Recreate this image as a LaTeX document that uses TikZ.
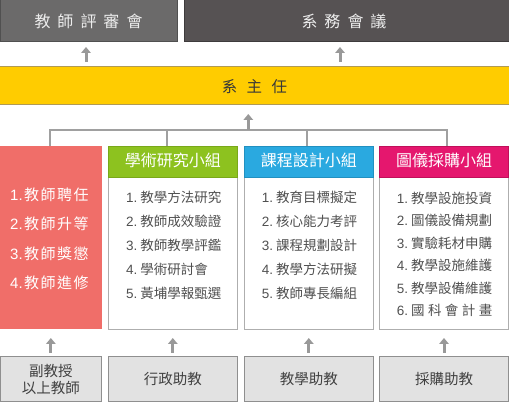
\documentclass[tikz,border=0pt]{standalone}
\usepackage{fontspec}
\setmainfont{Noto Sans CJK TC}
\newfontfamily\lat{Liberation Sans}
\usetikzlibrary{arrows.meta}
\definecolor{topL}{HTML}{6B6A6A}
\definecolor{topLd}{HTML}{505050}
\definecolor{topR}{HTML}{565253}
\definecolor{topRd}{HTML}{3E3B3C}
\definecolor{yel}{HTML}{FFCC00}
\definecolor{yeld}{HTML}{B09A55}
\definecolor{redc}{HTML}{F06E69}
\definecolor{grn}{HTML}{8DC21F}
\definecolor{grnd}{HTML}{79A81A}
\definecolor{blu}{HTML}{2AA9E0}
\definecolor{blud}{HTML}{2290C0}
\definecolor{pnk}{HTML}{E5176E}
\definecolor{pnkd}{HTML}{C0105A}
\definecolor{colb}{HTML}{AEAEAE}
\definecolor{linec}{HTML}{A0A0A0}
\definecolor{arrc}{HTML}{999999}
\definecolor{bfill}{HTML}{E2E2E2}
\definecolor{bdraw}{HTML}{8F8F8F}
\definecolor{bodytxt}{HTML}{505050}
\newcommand\gapx[1]{\kern#1pt\relax}
\begin{document}
\begin{tikzpicture}[x=1pt,y=-1pt,
  box/.style={rectangle, inner sep=0pt, outer sep=0pt, anchor=north west},
  ctext/.style={inner sep=0pt, text height=1.1em, text depth=0em},
  ttl/.style={ctext, text=white!93!black, font=\fontsize{16}{16}\selectfont},
  hdr/.style={box, ctext, text=white, font=\fontsize{16}{16}\selectfont, minimum width=129pt, minimum height=31pt, line width=0.8pt},
  colbody/.style={box, draw=colb, fill=white, line width=0.9pt, minimum width=129pt, minimum height=183.3pt},
  item/.style={ctext, anchor=west, text=bodytxt, font=\fontsize{13.5}{13.5}\selectfont},
  ritem/.style={ctext, anchor=west, text=white, font=\fontsize{15}{15}\selectfont},
  btm/.style={box, draw=bdraw, fill=bfill, line width=0.9pt, minimum height=45pt, text=black!75, font=\fontsize{14.5}{16.7}\selectfont, align=center},
  conn/.style={draw=linec, line width=1.8pt},
  arr/.style={draw=arrc, line width=3pt, -{Triangle[width=9.5pt,length=6pt]}}
]
\useasboundingbox (0,0) rectangle (509,403);

% top boxes
\node[box, fill=topL, draw=topLd, line width=0.8pt, minimum width=177pt, minimum height=42pt] (tr) at (0,-0.3) {};
\node[ttl] (trt) at ([yshift=-1.6pt]tr.center) {教\gapx{7}師\gapx{7}評\gapx{7}審\gapx{7}會};
\node[box, fill=topR, draw=topRd, line width=0.8pt, minimum width=326pt, minimum height=42pt] (ta) at (184,-0.3) {};
\node[ttl] (tat) at ([yshift=-1.6pt,xshift=-3pt]ta.center) {系\gapx{7}務\gapx{7}會\gapx{7}議};

% head
\node[box, fill=yel, draw=yeld, line width=0.9pt, minimum width=510pt, minimum height=37.8pt] (head) at (-0.5,66.7) {};
\node[ctext, text=black!78, font=\fontsize{15.5}{15.5}\selectfont] (headt) at ([yshift=-1pt]head.center) {系\gapx{9.5}主\gapx{9.5}任};

\coordinate (a1) at (86,0);
\coordinate (a2) at (340,0);
\draw[arr, shorten <=4.7pt, shorten >=5.3pt] (head.north -| a1) -- (tr.south -| a1);
\draw[arr, shorten <=4.7pt, shorten >=5.3pt] (head.north -| a2) -- (ta.south -| a2);

% columns
\node[box, fill=redc, minimum width=101.7pt, minimum height=183.3pt] (red) at (0,146) {};
\node[colbody] (green) at (108.3,146) {};
\node[colbody] (blue) at (244.3,146) {};
\node[colbody] (pink) at (379.5,146) {};
\node[hdr, fill=grn, draw=grnd] (greenh) at (108.3,146) {學術研究小組};
\node[hdr, fill=blu, draw=blud] (blueh) at (244.3,146) {課程設計小組};
\node[hdr, fill=pnk, draw=pnkd] (pinkh) at (379.5,146) {圖儀採購小組};

% connectors
\coordinate (busL) at (50,130);
\coordinate (busR) at (446.7,130);
\coordinate (busG) at (166.7,130);
\coordinate (busB) at (307.3,130);
\coordinate (busM) at (248.3,130);
\draw[conn] (red.north -| busL) -- (busL) -- (busR) -- (pink.north -| busR);
\draw[conn] (busG) -- (green.north -| busG);
\draw[conn] (busB) -- (blue.north -| busB);
\draw[arr, shorten >=9.5pt] (busM) -- (head.south -| busM);

% red items
\foreach \t [count=\i] in {教\gapx{1.5}師\gapx{1.5}聘\gapx{1.5}任,教\gapx{1.5}師\gapx{1.5}升\gapx{1.5}等,教\gapx{1.5}師\gapx{1.5}獎\gapx{1.5}懲,教\gapx{1.5}師\gapx{1.5}進\gapx{1.5}修}
  \node[ritem] (r\i) at (10,{195+29.33*(\i-1)}) {{\lat\i.}\gapx{1.5}\t};

% green items
\foreach \t [count=\i] in {教學方法研究,教師成效驗證,教師教學評鑑,學術研討會,黃埔學報甄選}
  \node[item] (g\i) at (126,{197+24*(\i-1)}) {{\lat\i.}\gapx{3}\t};

% blue items
\foreach \t [count=\i] in {教育目標擬定,核心能力考評,課程規劃設計,教學方法研擬,教師專長編組}
  \node[item] (c\i) at (261.7,{197+24*(\i-1)}) {{\lat\i.}\gapx{3}\t};

% pink items
\foreach \t [count=\i] in {教學設施投資,圖儀設備規劃,實驗耗材申購,教學設施維護,教學設備維護,國\gapx{3.4}科\gapx{3.4}會\gapx{3.4}計\gapx{3.4}畫}
  \node[item] (p\i) at (396.7,{198+22.4*(\i-1)}) {{\lat\i.}\gapx{3}\t};

% bottom boxes
\node[btm, minimum width=101.7pt] (b1) at (0,356.7) {副教授\\以上教師};
\node[btm, minimum width=129pt] (b2) at (108.3,356.7) {行政助教};
\node[btm, minimum width=129pt] (b3) at (244.3,356.7) {教學助教};
\node[btm, minimum width=129pt] (b4) at (379.5,356.7) {採購助教};

\draw[arr, shorten <=3.7pt, shorten >=8.7pt] (b1.north) -- (red.south);
\draw[arr, shorten <=3.7pt, shorten >=8.7pt] (b2.north) -- (green.south);
\draw[arr, shorten <=3.7pt, shorten >=8.7pt] (b3.north) -- (blue.south);
\draw[arr, shorten <=3.7pt, shorten >=8.7pt] (b4.north) -- (pink.south);
\end{tikzpicture}
\end{document}
